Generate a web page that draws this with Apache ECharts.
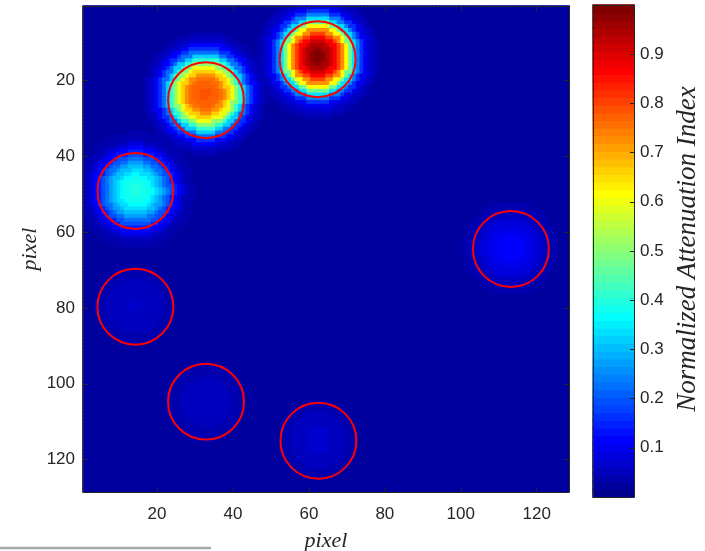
<!DOCTYPE html>
<html>
<head>
<meta charset="utf-8">
<script src="https://cdn.jsdelivr.net/npm/echarts@6/dist/echarts.min.js"></script>
<style>
html,body{margin:0;padding:0;background:#fff;}
#chart{width:705px;height:551px;}
</style>
</head>
<body>
<div id="chart"></div>
<script>
// ---- data ----
const imageSize = 128;
const backgroundLevel = 0.025;

// insert centres in pixel coordinates
const insertX = [62.5, 32.8, 14.6, 113.2, 14.3, 33.0, 62.5];
const insertY = [14.0, 23.8, 49.3, 64.5, 79.5, 105.0, 115.0];
// radial profiles: attenuation at 0, 1, 2, ... pixels from each insert centre
const profileInsert1 = [1.00, 0.99, 0.97, 0.94, 0.91, 0.87, 0.81, 0.72, 0.61, 0.47, 0.33, 0.24, 0.16, 0.10, 0.07, 0.05, 0.04, 0.03];
const profileInsert2 = [0.79, 0.79, 0.78, 0.77, 0.75, 0.72, 0.67, 0.60, 0.51, 0.42, 0.32, 0.23, 0.16, 0.11, 0.075, 0.05, 0.04, 0.03];
const profileInsert3 = [0.40, 0.40, 0.39, 0.38, 0.36, 0.34, 0.31, 0.27, 0.23, 0.19, 0.15, 0.11, 0.08, 0.06, 0.045, 0.035];
const profileInsert4 = [0.12, 0.12, 0.115, 0.11, 0.105, 0.10, 0.09, 0.08, 0.07, 0.06, 0.05, 0.04, 0.035, 0.03];
const profileInsert5 = [0.065, 0.065, 0.06, 0.06, 0.058, 0.055, 0.05, 0.048, 0.045, 0.04, 0.035, 0.03];
const profileInsert6 = [0.06, 0.06, 0.058, 0.055, 0.052, 0.05, 0.047, 0.044, 0.04, 0.036, 0.032, 0.03];
const profileInsert7 = [0.07, 0.07, 0.068, 0.065, 0.062, 0.058, 0.054, 0.05, 0.045, 0.04, 0.035, 0.03];
const insertProfiles = [profileInsert1, profileInsert2, profileInsert3, profileInsert4,
                        profileInsert5, profileInsert6, profileInsert7];

// regions of interest (red circles)
const roiX = [62.3, 32.9, 14.3, 113.2, 14.3, 32.9, 62.5];
const roiY = [14.5, 25.3, 49.2, 64.5, 79.7, 104.7, 115.0];
const roiRadius = [10, 10, 10, 10, 10, 10, 10];

// tick labels
const pixelTicks = [20, 40, 60, 80, 100, 120];
const colorbarTicks = [0.1, 0.2, 0.3, 0.4, 0.5, 0.6, 0.7, 0.8, 0.9];

// ---- colour map (64-level jet) ----
function jet(m) {
  const n = Math.ceil(m / 4);
  const u = [];
  for (let i = 1; i <= n; i++) u.push(i / n);
  for (let i = 1; i < n; i++) u.push(1);
  for (let i = n; i >= 1; i--) u.push(i / n);
  const g0 = Math.ceil(n / 2) - (m % 4 === 1 ? 1 : 0);
  const J = Array.from({length: m}, () => [0, 0, 0]);
  for (let k = 0; k < u.length; k++) {
    const g = g0 + k + 1;
    const r = g + n, b = g - n;
    if (r >= 1 && r <= m) J[r - 1][0] = u[k];
    if (g >= 1 && g <= m) J[g - 1][1] = u[k];
    if (b >= 1 && b <= m) J[b - 1][2] = u[k];
  }
  return J.map(c => 'rgb(' + c.map(x => Math.round(x * 255)).join(',') + ')');
}
const levels = 64;
const jetColors = jet(levels);
const pieces = jetColors.map((color, i) => {
  const p = {color: color};
  if (i > 0) p.gte = i / levels;
  if (i < levels - 1) p.lt = (i + 1) / levels;
  return p;
});
// colour of a value, used for the cell outlines so neighbouring cells close up seamlessly
const levelColor = (v) => jetColors[Math.max(0, Math.min(levels - 1, Math.floor(v * levels)))];
const cell = (x, y, v) => ({value: [x, y, v], itemStyle: {borderColor: levelColor(v), borderWidth: 1}});

// ---- attenuation map cells ----
const pixelNames = Array.from({length: imageSize}, (_, i) => String(i + 1));
const mapCells = [];
for (let row = 1; row <= imageSize; row++) {
  for (let col = 1; col <= imageSize; col++) {
    let v = backgroundLevel;
    for (let k = 0; k < insertX.length; k++) {
      const d = Math.round(Math.hypot(col - insertX[k], row - insertY[k]));
      const prof = insertProfiles[k];
      if (d < prof.length && prof[d] > v) v = prof[d];
    }
    mapCells.push(cell(col - 1, row - 1, v));
  }
}
const colorbarCells = jetColors.map((_, i) => cell(0, i, (i + 0.5) / levels));
const roiData = roiX.map((x, i) => [x, roiY[i], roiRadius[i]]);

// ---- chart ----
const axisColor = '#262626';
const sans = 'Liberation Sans, Arial, Helvetica, sans-serif';
const serif = 'Liberation Serif, Times New Roman, serif';
const showTick = (idx) => pixelTicks.indexOf(idx + 1) >= 0;
const lineStyle = {color: axisColor, width: 1};

function pixelAxis(extra) {
  return Object.assign({
    gridIndex: 0, type: 'category', data: pixelNames, z: 10,
    axisLine: {show: true, onZero: false, lineStyle: lineStyle},
    axisTick: {show: true, inside: true, length: 5, alignWithLabel: true, interval: showTick, lineStyle: lineStyle},
    axisLabel: {show: true, interval: showTick, color: axisColor, fontFamily: sans, fontSize: 17},
    splitLine: {show: false}
  }, extra);
}

const chart = echarts.init(document.getElementById('chart'), null, {renderer: 'canvas'});
chart.setOption({
  animation: false,
  backgroundColor: '#ffffff',
  grid: [
    {left: 83, top: 6, width: 486, height: 486},
    {left: 593, top: 5, width: 41, height: 492}
  ],
  xAxis: [
    pixelAxis({position: 'bottom', axisLabel: {show: true, interval: showTick, color: axisColor, fontFamily: sans, fontSize: 17, margin: 14}}),
    pixelAxis({position: 'top', axisLabel: {show: false}}),
    {gridIndex: 0, type: 'value', min: 0.5, max: 128.5, show: false},
    {gridIndex: 1, type: 'category', data: ['c'], position: 'bottom', z: 10,
     axisLine: {show: true, lineStyle: lineStyle}, axisTick: {show: false}, axisLabel: {show: false}},
    {gridIndex: 1, type: 'category', data: ['c'], position: 'top', z: 10,
     axisLine: {show: true, lineStyle: lineStyle}, axisTick: {show: false}, axisLabel: {show: false}}
  ],
  yAxis: [
    pixelAxis({position: 'left', inverse: true, axisLabel: {show: true, interval: showTick, color: axisColor, fontFamily: sans, fontSize: 17, margin: 8}}),
    pixelAxis({position: 'right', inverse: true, axisLabel: {show: false}}),
    {gridIndex: 0, type: 'value', min: 0.5, max: 128.5, inverse: true, show: false},
    {gridIndex: 1, type: 'category', data: jetColors.map((_, i) => i), position: 'left', z: 10,
     axisLine: {show: true, lineStyle: lineStyle}, axisTick: {show: false}, axisLabel: {show: false}},
    {gridIndex: 1, type: 'value', min: 0, max: 1, interval: 0.1, position: 'right', z: 10,
     axisLine: {show: true, lineStyle: lineStyle},
     axisTick: {show: true, inside: true, length: 4, lineStyle: lineStyle},
     axisLabel: {show: true, color: axisColor, fontFamily: sans, fontSize: 17, margin: 6,
       formatter: (v) => colorbarTicks.some(t => Math.abs(t - v) < 1e-6) ? v.toFixed(1) : ''},
     splitLine: {show: false}}
  ],
  visualMap: {
    type: 'piecewise', show: false, dimension: 2, seriesIndex: [0, 1], pieces: pieces
  },
  series: [
    {type: 'heatmap', xAxisIndex: 0, yAxisIndex: 0, data: mapCells, progressive: 0,
     emphasis: {disabled: true}},
    {type: 'heatmap', xAxisIndex: 3, yAxisIndex: 3, data: colorbarCells, progressive: 0,
     emphasis: {disabled: true}},
    {type: 'custom', xAxisIndex: 2, yAxisIndex: 2, data: roiData, z: 5, silent: true,
     encode: {x: 0, y: 1},
     renderItem: function (params, api) {
       const c = api.coord([api.value(0), api.value(1)]);
       const s = api.size([api.value(2), api.value(2)]);
       return {type: 'circle', shape: {cx: c[0], cy: c[1], r: s[0]},
               style: {fill: 'none', stroke: '#ff0000', lineWidth: 2}};
     }}
  ],
  graphic: [
    {type: 'text', x: 326, y: 541, silent: true,
     style: {text: 'pixel', font: 'italic 22px ' + serif, fill: axisColor, align: 'center', verticalAlign: 'middle'}},
    {type: 'text', x: 30, y: 249, rotation: Math.PI / 2, silent: true,
     style: {text: 'pixel', font: 'italic 22px ' + serif, fill: axisColor, align: 'center', verticalAlign: 'middle'}},
    {type: 'text', x: 688, y: 249, rotation: Math.PI / 2, silent: true,
     style: {text: 'Normalized Attenuation Index', font: 'italic 27px ' + serif, fill: axisColor, align: 'center', verticalAlign: 'middle'}},
    {type: 'line', silent: true, shape: {x1: 0, y1: 548, x2: 211, y2: 548},
     style: {stroke: '#a8a8a8', lineWidth: 2.5}}
  ]
});
</script>
</body>
</html>
